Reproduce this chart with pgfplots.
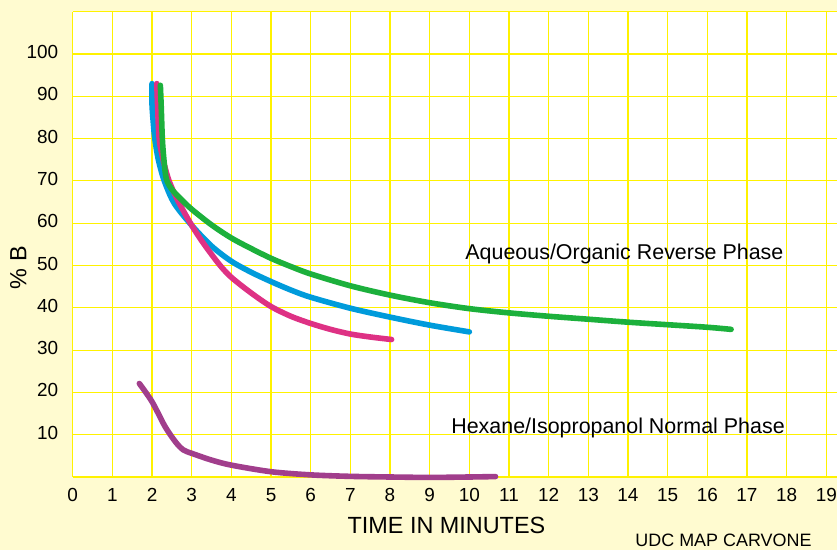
\documentclass[border=0pt]{standalone}
\usepackage{pgfplots}
\pgfplotsset{compat=1.18}
\usepackage{fontspec}
\setmainfont{Liberation Sans}
\definecolor{cream}{RGB}{255,251,208}
\definecolor{gridyellow}{RGB}{255,242,0}
\definecolor{cblue}{RGB}{0,155,219}
\definecolor{cpink}{RGB}{222,49,132}
\definecolor{cgreen}{RGB}{28,176,60}
\definecolor{cpurple}{RGB}{161,62,140}
\begin{document}
\begin{tikzpicture}
\fill[cream] (0bp,0bp) rectangle (837bp,550bp);
\useasboundingbox (0bp,0bp) rectangle (837bp,550bp);
\begin{axis}[
  at={(72.7bp,73bp)}, anchor=south west,
  scale only axis, width=764.3bp, height=465.3bp,
  xmin=0, xmax=19.27, ymin=0, ymax=110,
  clip=false,
  axis background/.style={fill=white},
  axis line style={draw=none},
  major tick length=0pt,
  xtick={0,1,...,19}, ytick={0,10,...,110},
  yticklabels={{},10,20,30,40,50,60,70,80,90,100,{}},
  grid=major, major grid style={gridyellow, line width=1.1bp},
  /pgf/number format/assume math mode=true,
  ticklabel style={font=\fontsize{19}{22}\selectfont},
  xticklabel style={anchor=base, inner sep=0pt, yshift=-24.7bp},
  yticklabel style={anchor=east, inner sep=0pt, xshift=-14.4bp, yshift=2bp},
  xlabel={TIME IN MINUTES},
  xlabel style={at={(axis description cs:0.489,0)}, anchor=base, inner sep=0pt, yshift=-56.3bp, font=\fontsize{23.5}{26}\selectfont},
  ylabel={\% B},
  ylabel style={at={(axis description cs:-0.0712,0.45)}, anchor=center, inner sep=0pt, font=\fontsize{23.5}{26}\selectfont},
  every axis plot/.append style={line width=5.6bp, line cap=round, line join=round, smooth, no markers},
]
% Blue
\addplot[cblue] coordinates {
(2.0,93) (2.0,88) (2.03,84) (2.07,80) (2.16,75) (2.31,70) (2.56,64.7) (3.0,59.5) (3.5,54.6) (4.0,51.0) (4.5,48.4) (5.0,46.2) (5.5,44.2) (6.0,42.5) (7.0,39.9) (8.0,37.8) (9.0,35.9) (10.0,34.3)
};
% Pink
\addplot[cpink] coordinates {
(2.12,93) (2.14,88) (2.18,80) (2.28,75) (2.43,70) (2.66,65.2) (3.0,59.5) (3.3,55.2) (3.7,50.2) (4.0,47.2) (4.5,43.5) (5.0,40.3) (5.5,38.0) (6.0,36.3) (6.5,34.9) (7.0,33.8) (7.5,33.1) (8.04,32.5)
};
% Green
\addplot[cgreen] coordinates {
(2.21,92.6) (2.23,88) (2.26,80) (2.3,75) (2.36,70.5) (2.5,68) (2.75,65.5) (3.0,63.3) (3.5,59.6) (4.0,56.5) (4.5,54.0) (5.0,51.7) (5.5,49.75) (6.0,48.0) (7.0,45.2) (8.0,43.0) (9.0,41.2) (10.0,39.8) (11,38.8) (12,38.0) (13,37.3) (14,36.6) (15,36.0) (16,35.4) (16.6,34.9)
};
% Purple
\addplot[cpurple] coordinates {
(1.68,22.1) (2.0,17.8) (2.33,11.9) (2.6,8.2) (2.79,6.4) (3.0,5.6) (3.5,4.0) (4.0,2.8) (5.0,1.25) (6.0,0.5) (7.0,0.15) (8.0,0.0) (9.0,-0.1) (10.0,0.0) (10.66,0.1)
};
\node[anchor=base, font=\fontsize{21.5}{24}\selectfont] at (axis cs:13.91,51.44) {Aqueous/Organic Reverse Phase};
\node[anchor=base, font=\fontsize{21.5}{24}\selectfont] at (axis cs:13.75,10.33) {Hexane/Isopropanol Normal Phase};
\end{axis}
\node[anchor=base, inner sep=0pt, font=\fontsize{18}{20}\selectfont] at (723.5bp,4bp) {UDC MAP CARVONE};
\end{tikzpicture}
\end{document}
